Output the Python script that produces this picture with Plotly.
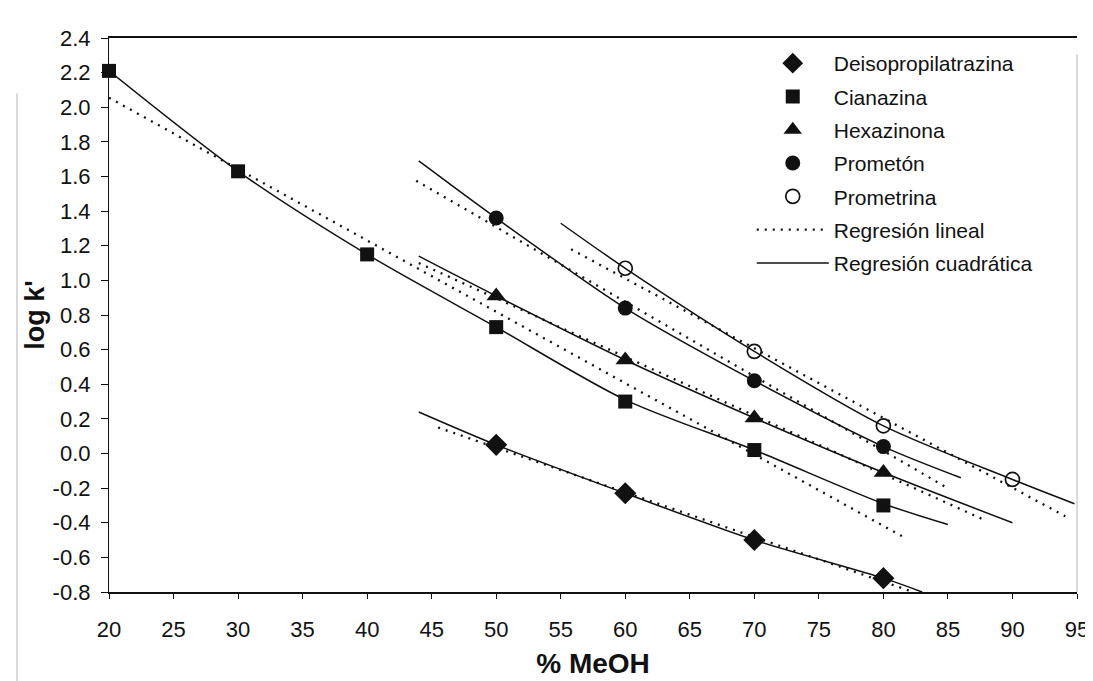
import plotly.graph_objects as go

# ---------------- data ----------------
meoh_cian = [20, 30, 40, 50, 60, 70, 80]
cianazina = [2.21, 1.63, 1.15, 0.73, 0.30, 0.02, -0.30]

meoh_4 = [50, 60, 70, 80]
deisopropilatrazina = [0.05, -0.23, -0.50, -0.72]
hexazinona = [0.91, 0.54, 0.205, -0.11]
prometon = [1.36, 0.84, 0.42, 0.04]

meoh_prometrina = [60, 70, 80, 90]
prometrina = [1.07, 0.59, 0.16, -0.15]

# linear regression lines (end points)
lin_deiso_x, lin_deiso_y = [45.5, 82.3], [0.15, -0.80]
lin_cian_x, lin_cian_y = [20, 81.5], [2.055, -0.48]
lin_hexa_x, lin_hexa_y = [44, 88], [1.10, -0.39]
lin_prom_x, lin_prom_y = [43.8, 85.1], [1.575, -0.205]
lin_promt_x, lin_promt_y = [55.8, 94.1], [1.18, -0.363]

# quadratic regression curves
quad_deiso_x = [44, 50, 60, 70, 80, 83]
quad_deiso_y = [0.24, 0.05, -0.23, -0.50, -0.72, -0.80]
quad_cian_x = [20, 30, 40, 50, 60, 70, 80, 85]
quad_cian_y = [2.21, 1.63, 1.15, 0.73, 0.31, 0.02, -0.29, -0.41]
quad_hexa_x = [44, 50, 60, 70, 80, 90]
quad_hexa_y = [1.14, 0.91, 0.54, 0.205, -0.11, -0.40]
quad_prom_x = [44, 50, 60, 70, 80, 86]
quad_prom_y = [1.69, 1.36, 0.84, 0.42, 0.04, -0.14]
quad_promt_x = [55, 60, 70, 80, 90, 94.8]
quad_promt_y = [1.33, 1.07, 0.59, 0.16, -0.15, -0.29]

x_ticks = [20, 25, 30, 35, 40, 45, 50, 55, 60, 65, 70, 75, 80, 85, 90, 95]
y_ticks = [2.4, 2.2, 2.0, 1.8, 1.6, 1.4, 1.2, 1.0, 0.8, 0.6, 0.4, 0.2, 0.0,
           -0.2, -0.4, -0.6, -0.8]
y_tick_text = ["2.4", "2.2", "2.0", "1.8", "1.6", "1.4", "1.2", "1.0", "0.8",
               "0.6", "0.4", "0.2", "0.0", "-0.2", "-0.4", "-0.6", "-0.8"]

FONT = "Liberation Sans, Arial, sans-serif"
BLACK = "#111111"

fig = go.Figure()

# linear regressions (dotted)
lin_sets = [(lin_deiso_x, lin_deiso_y), (lin_cian_x, lin_cian_y),
            (lin_hexa_x, lin_hexa_y), (lin_prom_x, lin_prom_y),
            (lin_promt_x, lin_promt_y)]
for i, (xs, ys) in enumerate(lin_sets):
    fig.add_trace(go.Scatter(
        x=xs, y=ys, mode="lines", name="Regresión lineal",
        legendgroup="lin", showlegend=(i == 0), legendrank=6,
        line=dict(color=BLACK, width=2.3, dash="2px,6px")))

# quadratic regressions (solid)
quad_sets = [(quad_deiso_x, quad_deiso_y), (quad_cian_x, quad_cian_y),
             (quad_hexa_x, quad_hexa_y), (quad_prom_x, quad_prom_y),
             (quad_promt_x, quad_promt_y)]
for i, (xs, ys) in enumerate(quad_sets):
    fig.add_trace(go.Scatter(
        x=xs, y=ys, mode="lines", name="Regresión cuadrática",
        legendgroup="quad", showlegend=(i == 0), legendrank=7,
        line=dict(color=BLACK, width=1.5, shape="spline", smoothing=0.8)))

# data points
marker_sets = [
    ("Deisopropilatrazina", meoh_4, deisopropilatrazina, "diamond", 17, 1),
    ("Cianazina", meoh_cian, cianazina, "square", 14, 2),
    ("Hexazinona", meoh_4, hexazinona, "triangle-up", 17, 3),
    ("Prometón", meoh_4, prometon, "circle", 15, 4),
    ("Prometrina", meoh_prometrina, prometrina, "circle-open", 14, 5),
]
for name, xs, ys, sym, size, rank in marker_sets:
    fig.add_trace(go.Scatter(
        x=xs, y=ys, mode="markers", name=name, legendgroup=name,
        legendrank=rank, cliponaxis=False,
        marker=dict(symbol=sym, size=size, color=BLACK,
                    line=dict(width=1.7 if sym == "circle-open" else 0,
                              color=BLACK))))

fig.update_layout(
    width=1093, height=681,
    margin=dict(l=101, r=14, t=30, b=97),
    paper_bgcolor="white", plot_bgcolor="white",
    font=dict(family=FONT, color=BLACK),
    showlegend=True,
    legend=dict(x=0.664, y=0.991, xanchor="left", yanchor="top",
                bgcolor="rgba(0,0,0,0)", borderwidth=0,
                font=dict(size=21, family=FONT, color=BLACK),
                itemwidth=72, traceorder="grouped", tracegroupgap=3),
    xaxis=dict(range=[20, 95], tickmode="array", tickvals=x_ticks,
               showgrid=False, zeroline=False,
               showline=True, linecolor=BLACK, linewidth=1.6, mirror=True,
               ticks="outside", ticklen=5, tickcolor=BLACK, tickwidth=1,
               ticklabelstandoff=12,
               tickfont=dict(size=22, family=FONT, color=BLACK),
               title=dict(text="<b>% MeOH</b>", standoff=12,
                          font=dict(size=28, family=FONT, color=BLACK))),
    yaxis=dict(range=[-0.8, 2.4], tickmode="array", tickvals=y_ticks,
               ticktext=y_tick_text,
               showgrid=False, zeroline=False,
               showline=True, linecolor=BLACK, linewidth=1.2,
               ticks="outside", ticklen=7, tickcolor=BLACK, tickwidth=1,
               ticklabelstandoff=6,
               tickfont=dict(size=22, family=FONT, color=BLACK),
               title=dict(text="<b>log k'</b>", standoff=0,
                          font=dict(size=27, family=FONT, color=BLACK))),
    shapes=[
        # faint scan edges
        dict(type="line", xref="paper", yref="paper", x0=1.0, x1=1.0,
             y0=0.0, y1=0.97, line=dict(color="#cfcfcf", width=1.5)),
        dict(type="line", xref="paper", yref="paper",
             x0=-93 / 978, x1=-93 / 978, y0=-0.175, y1=0.9,
             line=dict(color="#d8d8d8", width=2)),
    ],
)

fig.write_html("out.html")
